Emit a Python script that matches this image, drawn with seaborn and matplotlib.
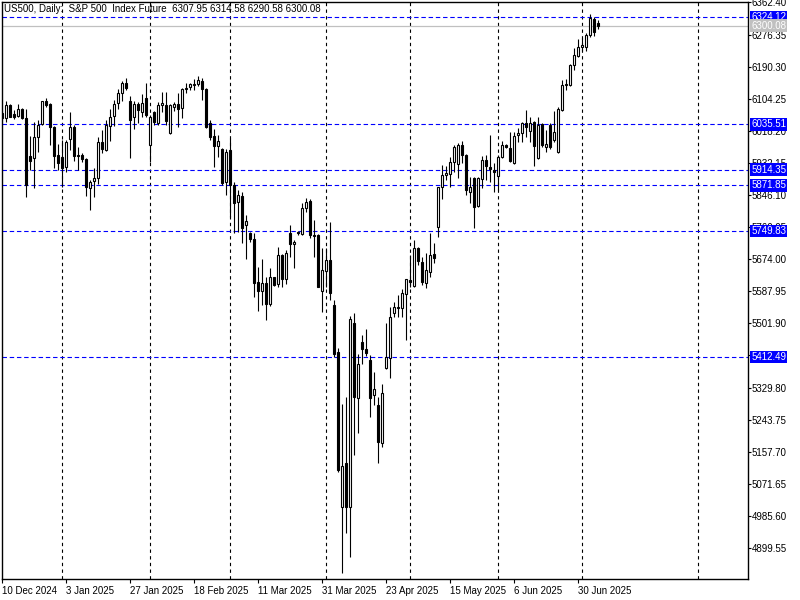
import numpy as np
import matplotlib
matplotlib.use("Agg")
import matplotlib.pyplot as plt
import seaborn as sns

# daily OHLC, one row of ten bars per line
opens = [6066.0, 6051.7, 6087.4, 6063.3, 6057.9, 6077.5, 6051.7, 5950.6, 5944.4, 6000.7,
         6036.5, 6097.3, 6090.1, 6029.2, 5953.3, 5947.9, 5920.3, 5995.4, 6029.2, 5953.3,
         5953.3, 5942.6, 5864.1, 5884.4, 5890.9, 5988.2, 5966.7, 6031.1, 6058.7, 6092.0,
         6118.8, 6145.6, 6098.9, 6056.0, 6090.1, 6067.8, 6105.4, 5980.2, 6067.8, 6039.9,
         6087.4, 6087.4, 6013.1, 6082.8, 6090.1, 6078.5, 6129.5, 6136.5, 6141.0, 6142.9,
         6152.5, 6130.3, 6039.9, 6004.3, 5978.3, 5968.6, 5881.7, 5966.7, 5872.9, 5828.1,
         5843.4, 5764.9, 5743.4, 5728.1, 5612.1, 5589.6, 5609.4, 5553.9, 5625.5, 5606.7,
         5685.2, 5620.1, 5743.4, 5713.9, 5746.9, 5741.6, 5810.5, 5830.8, 5739.0, 5739.0,
         5589.6, 5643.1, 5671.8, 5551.2, 5426.0, 5008.8, 5126.8, 5008.8, 5502.1, 5301.0,
         5452.8, 5432.4, 5403.7, 5309.9, 5283.1, 5182.0, 5381.5, 5408.3, 5528.9, 5545.0,
         5542.3, 5580.7, 5618.2, 5602.1, 5703.2, 5666.5, 5609.4, 5640.5, 5687.9, 5759.5,
         5866.8, 5899.7, 5902.4, 5933.8, 5929.2, 5980.2, 5953.3, 5854.9, 5890.9, 5816.6,
         5888.2, 5939.9, 5920.3, 5913.1, 5897.0, 5947.2, 5980.2, 5971.3, 5931.1, 6007.0,
         6011.5, 6038.3, 6018.5, 6042.6, 5944.4, 6036.5, 5975.6, 6033.8, 5993.6, 5962.1,
         6074.0, 6141.0, 6141.0, 6194.6, 6218.8, 6243.7, 6243.7, 6275.1, 6318.0, 6307.95]
highs = [6074.0, 6098.9, 6089.3, 6074.0, 6089.3, 6080.2, 6075.9, 6004.3, 6042.6, 6047.2,
         6098.9, 6106.2, 6092.0, 6031.9, 5982.8, 5993.6, 5993.6, 6067.8, 6033.8, 5974.0,
         5957.9, 5944.4, 5886.3, 5917.7, 6000.7, 6020.4, 6047.2, 6075.9, 6100.8, 6129.5,
         6152.5, 6159.0, 6111.5, 6098.9, 6096.3, 6116.9, 6145.6, 6060.6, 6072.1, 6096.3,
         6123.0, 6121.5, 6090.1, 6096.3, 6118.8, 6132.2, 6147.2, 6147.2, 6156.3, 6165.1,
         6159.0, 6132.2, 6047.2, 6022.3, 6007.0, 5971.3, 5968.6, 5998.1, 5881.7, 5859.5,
         5854.9, 5792.5, 5746.1, 5745.0, 5652.3, 5673.7, 5627.1, 5649.6, 5627.1, 5705.9,
         5687.9, 5698.6, 5765.7, 5725.5, 5749.6, 5823.8, 5837.3, 5834.6, 5779.1, 5741.6,
         5703.2, 5703.2, 5774.5, 5564.6, 5435.1, 5285.8, 5305.3, 5521.7, 5528.9, 5419.8,
         5470.8, 5486.0, 5417.1, 5372.4, 5305.3, 5339.4, 5502.1, 5546.6, 5560.0, 5578.0,
         5593.2, 5621.7, 5685.2, 5725.5, 5707.5, 5680.7, 5689.8, 5743.4, 5716.6, 5868.4,
         5926.5, 5923.8, 5947.2, 5980.2, 5986.3, 5991.7, 5956.0, 5893.6, 5893.6, 5893.6,
         5950.6, 5953.3, 6007.0, 5931.1, 5953.3, 5991.7, 5982.8, 6015.8, 6015.8, 6024.9,
         6042.6, 6074.0, 6054.4, 6045.3, 6056.0, 6038.3, 6020.4, 6038.3, 6072.1, 6082.8,
         6154.4, 6156.3, 6197.3, 6239.4, 6263.5, 6266.2, 6279.6, 6331.4, 6322.5, 6314.58]
lows = [6047.2, 6042.6, 6054.4, 6049.1, 6054.4, 6049.1, 5839.9, 5913.1, 5864.1, 5962.1,
        6033.8, 6082.8, 5980.2, 5917.7, 5913.1, 5868.3, 5908.6, 5966.7, 5938.0, 5913.1,
        5935.4, 5843.4, 5805.9, 5841.6, 5875.6, 5959.5, 5964.1, 5991.7, 6031.1, 6075.9,
        6098.9, 6127.6, 5946.1, 6022.3, 6038.3, 6056.0, 6056.0, 5935.4, 6033.8, 6033.8,
        6069.4, 6033.8, 6009.6, 6072.1, 6029.2, 6051.7, 6118.8, 6127.6, 6127.6, 6138.3,
        6100.8, 6024.9, 5993.6, 5922.0, 5948.8, 5872.9, 5846.1, 5787.9, 5743.4, 5747.7,
        5718.3, 5673.7, 5720.9, 5571.8, 5535.9, 5551.2, 5511.0, 5548.5, 5602.1, 5598.6,
        5598.6, 5606.7, 5680.7, 5649.6, 5739.0, 5739.0, 5801.3, 5730.0, 5680.7, 5598.6,
        5533.2, 5600.3, 5564.6, 5412.6, 5104.3, 4831.9, 4940.7, 4874.8, 5149.0, 5207.2,
        5393.0, 5414.5, 5251.7, 5283.1, 5128.4, 5171.3, 5378.8, 5354.7, 5519.8, 5519.8,
        5519.8, 5457.4, 5600.3, 5600.3, 5658.4, 5604.8, 5596.0, 5627.1, 5662.9, 5732.7,
        5834.6, 5886.3, 5866.8, 5908.6, 5890.9, 5931.1, 5846.1, 5825.5, 5756.8, 5813.1,
        5864.1, 5886.3, 5881.7, 5854.9, 5859.5, 5944.4, 5971.3, 5935.4, 5929.2, 5989.0,
        5989.0, 6002.4, 5989.0, 5923.8, 5941.8, 5975.6, 5962.1, 5968.6, 5989.0, 5957.9,
        6072.1, 6127.6, 6138.3, 6181.2, 6216.9, 6233.0, 6233.0, 6270.5, 6272.4, 6290.58]
closes = [6052.5, 6087.4, 6056.0, 6054.4, 6075.9, 6051.7, 5872.9, 5938.0, 6000.7, 6033.8,
          6097.3, 6087.4, 6027.6, 5950.6, 5932.7, 5917.7, 5989.0, 6029.2, 5950.6, 5950.6,
          5942.6, 5866.8, 5880.9, 5891.7, 5988.2, 5968.6, 6033.8, 6054.4, 6090.1, 6118.8,
          6145.6, 6132.2, 6047.2, 6090.1, 6074.0, 6092.0, 6060.6, 6056.0, 6042.6, 6087.4,
          6093.6, 6045.3, 6087.4, 6090.1, 6076.7, 6129.5, 6132.2, 6143.7, 6143.7, 6154.4,
          6130.3, 6029.2, 6002.4, 5977.5, 5991.7, 5879.1, 5962.1, 5872.9, 5823.8, 5846.1,
          5758.5, 5775.6, 5727.3, 5611.0, 5589.6, 5611.0, 5553.9, 5627.1, 5604.8, 5685.2,
          5620.1, 5689.8, 5714.7, 5719.3, 5743.4, 5810.5, 5828.1, 5739.0, 5737.0, 5600.3,
          5645.0, 5671.8, 5584.2, 5419.8, 5108.8, 5119.6, 5010.5, 5512.9, 5303.7, 5392.2,
          5432.4, 5423.3, 5301.0, 5325.2, 5184.7, 5314.4, 5412.6, 5518.2, 5546.6, 5543.0,
          5582.5, 5620.1, 5612.1, 5703.2, 5670.0, 5613.6, 5645.0, 5685.2, 5676.4, 5866.8,
          5899.7, 5905.9, 5935.4, 5974.0, 5980.2, 5953.3, 5859.5, 5866.8, 5814.7, 5890.9,
          5939.9, 5923.8, 5914.9, 5908.6, 5947.2, 5980.2, 5974.0, 5938.0, 6004.3, 6013.1,
          6038.3, 6029.2, 6039.9, 5977.5, 6033.8, 5980.2, 5982.8, 5975.6, 6014.2, 6075.9,
          6141.0, 6143.7, 6194.6, 6221.4, 6242.1, 6248.3, 6275.1, 6319.8, 6283.9, 6300.08]

level_prices = [6324.12, 6035.51, 5914.35, 5871.85, 5749.83, 5412.49]
last_price = 6300.08

price_ticks = [6362.40, 6276.35, 6190.30, 6104.25, 6018.20, 5932.15, 5846.10, 5760.05, 5674.00,
               5587.95, 5501.90, 5415.85, 5329.80, 5243.75, 5157.70, 5071.65, 4985.60, 4899.55]
date_bars = [0, 16, 32, 48, 64, 80, 96, 112, 128, 144]
date_labels = ["10 Dec 2024", "3 Jan 2025", "27 Jan 2025", "18 Feb 2025", "11 Mar 2025",
               "31 Mar 2025", "23 Apr 2025", "15 May 2025", "6 Jun 2025", "30 Jun 2025"]
month_bars = [15, 37, 57, 81, 102, 124, 145, 174]

title = "US500, Daily:  S&P 500  Index Future  6307.95 6314.58 6290.58 6300.08"

sns.set_style("white")
plt.rcParams['font.family'] = ['Liberation Sans', 'DejaVu Sans']

o = np.array(opens)
h = np.array(highs)
l = np.array(lows)
c = np.array(closes)
x = np.arange(len(o))
up = c >= o

fig = plt.figure(figsize=(8, 6), dpi=100)
ax = fig.add_axes([2 / 800, 21 / 600, 745.5 / 800, 577.3 / 600])

# month separators
for m in month_bars:
    ax.axvline(m, color='black', lw=0.8, ls=(0, (3, 3)), zorder=1)

# level lines
for p in level_prices:
    ax.axhline(p, color='#0000ff', lw=0.8, ls=(0, (4, 2.5)), zorder=1)
ax.axhline(last_price, color='#c0c0c0', lw=0.9, zorder=1)

# candles
ax.vlines(x, l, h, color='black', lw=0.8, zorder=2)
ax.bar(x, np.abs(c - o), bottom=np.minimum(o, c), width=0.55,
       color=np.where(up, 'white', 'black'), edgecolor='black', lw=0.8, zorder=3)

ax.set_xlim(0, 186.4)
ax.set_ylim(4816.6, 6364.3)

ax.yaxis.tick_right()
ax.set_yticks(price_ticks)
ax.set_yticklabels([f"{v:.2f}" for v in price_ticks])
ax.set_xticks(date_bars)
ax.set_xticklabels(date_labels)
for t in ax.get_xticklabels():
    t.set_ha('left')
ax.tick_params(axis='y', direction='out', length=2.2, width=0.8, pad=0.6,
               labelsize=7, colors='black', right=True, left=False)
ax.tick_params(axis='x', direction='out', length=3, width=0.8, pad=1.8,
               labelsize=7, colors='black', bottom=True)
for s in ax.spines.values():
    s.set_color('black')
    s.set_linewidth(1.0)
ax.grid(False)

# price boxes on the right scale
for p in level_prices:
    ax.annotate(f"{p:.2f}", xy=(1, p), xycoords=('axes fraction', 'data'),
                xytext=(2.7, 0), textcoords='offset points', ha='left', va='center',
                fontsize=7, color='white', zorder=10, annotation_clip=False,
                bbox=dict(boxstyle='square,pad=0.12', fc='#0000ff', ec='none'))
ax.annotate(f"{last_price:.2f}", xy=(1, last_price), xycoords=('axes fraction', 'data'),
            xytext=(2.7, 0), textcoords='offset points', ha='left', va='center',
            fontsize=7, color='white', zorder=10, annotation_clip=False,
            bbox=dict(boxstyle='square,pad=0.12', fc='#c0c0c0', ec='none'))

fig.text(4 / 800, 1 - 8.5 / 600, title, fontsize=7, color='black', va='center', ha='left')

fig.savefig('out.png', dpi=100)
